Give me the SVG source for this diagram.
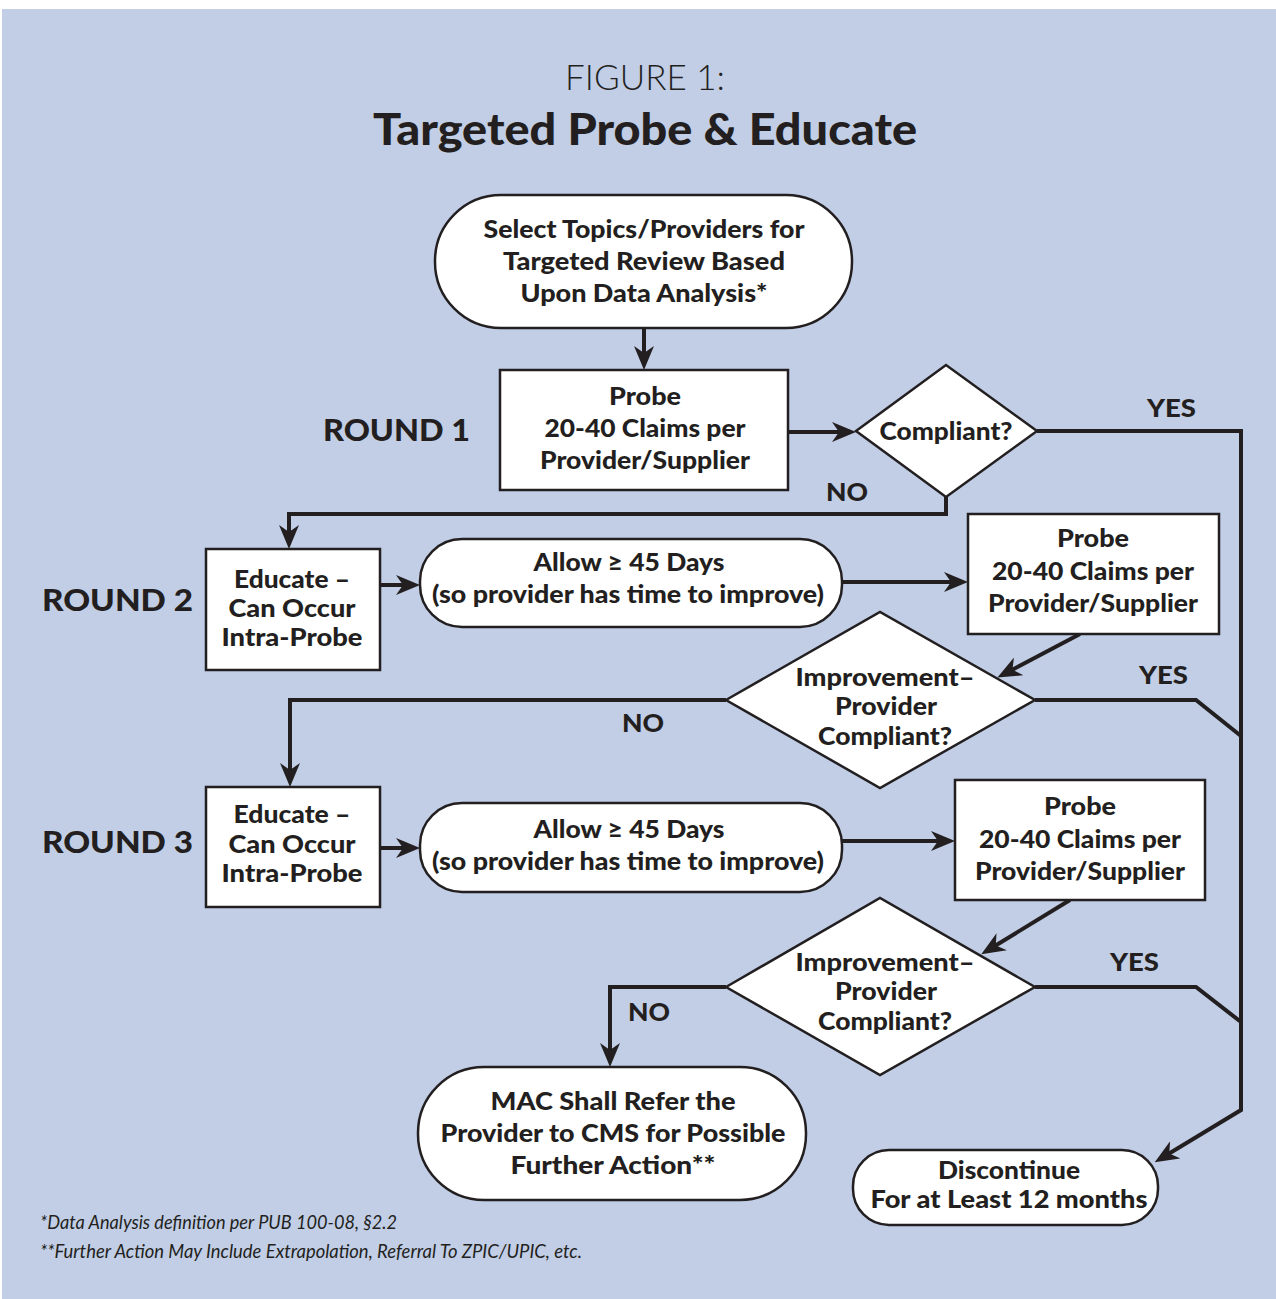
<svg xmlns="http://www.w3.org/2000/svg" width="1276" height="1299" viewBox="0 0 1276 1299">
<defs>
<marker id="arr" viewBox="0 0 24 20" refX="12" refY="10" markerWidth="24" markerHeight="20" markerUnits="userSpaceOnUse" orient="auto">
<path d="M0,0 L24,10 L0,20 L7,10 z" fill="#231f20"/>
</marker>
<style>
.bg{fill:#c1cee6}
.node{fill:#fff;stroke:#231f20;stroke-width:2.5}
.t{font-family:Lato,"Open Sans","DejaVu Sans",sans-serif;font-weight:900;fill:#231f20;text-anchor:middle;font-size:24px}
.lbl{font-family:Lato,"Open Sans","DejaVu Sans",sans-serif;font-weight:900;fill:#231f20;font-size:24px}
.round{font-family:Lato,"Open Sans","DejaVu Sans",sans-serif;font-weight:900;fill:#231f20;font-size:31px}
.conn{fill:none;stroke:#231f20;stroke-width:4}
.note{font-family:Lato,"Open Sans","DejaVu Sans",sans-serif;font-style:italic;fill:#231f20;font-size:19px}
</style>
</defs>
<rect class="bg" x="2" y="9" width="1274" height="1290"/>
<g id="title">
<text x="645" y="90" text-anchor="middle" style="font-family:Lato,'Open Sans',sans-serif;font-weight:300;font-size:35px;fill:#231f20">FIGURE 1:</text>
<text x="645" y="145" text-anchor="middle" textLength="544" lengthAdjust="spacingAndGlyphs" style="font-family:Lato,'Open Sans',sans-serif;font-weight:900;font-size:43px;fill:#231f20">Targeted Probe &amp; Educate</text>
</g>
<g id="connectors">
<path class="conn" d="M644,328 V358" marker-end="url(#arr)"/>
<path class="conn" d="M788,432 H844" marker-end="url(#arr)"/>
<path class="conn" d="M1037,431 H1241 V1110 L1165,1156" marker-end="url(#arr)"/>
<path class="conn" d="M946,497 V514 H289 V537" marker-end="url(#arr)"/>
<path class="conn" d="M380,585 H408" marker-end="url(#arr)"/>
<path class="conn" d="M842,582 H956" marker-end="url(#arr)"/>
<path class="conn" d="M1080,634 L1008,672" marker-end="url(#arr)"/>
<path class="conn" d="M1035,700 H1196 L1241,736"/>
<path class="conn" d="M726,700 H290 V775" marker-end="url(#arr)"/>
<path class="conn" d="M380,848 H408" marker-end="url(#arr)"/>
<path class="conn" d="M842,841 H943" marker-end="url(#arr)"/>
<path class="conn" d="M1070,900 L991.5,948" marker-end="url(#arr)"/>
<path class="conn" d="M1035,987 H1196 L1241,1022"/>
<path class="conn" d="M726,987 H610 V1055" marker-end="url(#arr)"/>
</g>
<g id="labels">
<text class="round" x="323" y="441" textLength="147" lengthAdjust="spacingAndGlyphs">ROUND 1</text>
<text class="round" x="42" y="611" textLength="151" lengthAdjust="spacingAndGlyphs">ROUND 2</text>
<text class="round" x="42" y="853" textLength="151" lengthAdjust="spacingAndGlyphs">ROUND 3</text>
<text class="lbl" x="1147" y="417" textLength="49" lengthAdjust="spacingAndGlyphs">YES</text>
<text class="lbl" x="826" y="501" textLength="42" lengthAdjust="spacingAndGlyphs">NO</text>
<text class="lbl" x="1139" y="684" textLength="49" lengthAdjust="spacingAndGlyphs">YES</text>
<text class="lbl" x="622" y="732" textLength="42" lengthAdjust="spacingAndGlyphs">NO</text>
<text class="lbl" x="1110" y="971" textLength="49" lengthAdjust="spacingAndGlyphs">YES</text>
<text class="lbl" x="628" y="1021" textLength="42" lengthAdjust="spacingAndGlyphs">NO</text>
</g>
<g id="start">
<rect class="node" x="435" y="195" width="417" height="133" rx="66" ry="66"/>
<text class="t" x="644" y="238" textLength="321" lengthAdjust="spacingAndGlyphs">Select Topics/Providers for</text>
<text class="t" x="644" y="270" textLength="282" lengthAdjust="spacingAndGlyphs">Targeted Review Based</text>
<text class="t" x="644" y="302" textLength="247" lengthAdjust="spacingAndGlyphs">Upon Data Analysis*</text>
</g>
<g id="probe1">
<rect class="node" x="500" y="370" width="288" height="120"/>
<text class="t" x="645" y="405" textLength="72" lengthAdjust="spacingAndGlyphs">Probe</text>
<text class="t" x="645" y="437" textLength="201" lengthAdjust="spacingAndGlyphs">20-40 Claims per</text>
<text class="t" x="645" y="469" textLength="210" lengthAdjust="spacingAndGlyphs">Provider/Supplier</text>
</g>
<g id="compliant1">
<polygon class="node" points="856,431 946,365 1037,431 946,497"/>
<text class="t" x="946" y="440" textLength="133" lengthAdjust="spacingAndGlyphs">Compliant?</text>
</g>
<g id="educate2">
<rect class="node" x="206" y="549" width="174" height="121"/>
<text class="t" x="292" y="588" textLength="116" lengthAdjust="spacingAndGlyphs">Educate –</text>
<text class="t" x="292" y="617" textLength="127" lengthAdjust="spacingAndGlyphs">Can Occur</text>
<text class="t" x="292" y="646" textLength="141" lengthAdjust="spacingAndGlyphs">Intra-Probe</text>
</g>
<g id="allow2">
<rect class="node" x="420" y="539" width="422" height="88" rx="42" ry="42"/>
<text class="t" x="629" y="571" textLength="191" lengthAdjust="spacingAndGlyphs">Allow ≥ 45 Days</text>
<text class="t" x="628" y="603" textLength="392" lengthAdjust="spacingAndGlyphs">(so provider has time to improve)</text>
</g>
<g id="probe2">
<rect class="node" x="968" y="514" width="251" height="120"/>
<text class="t" x="1093" y="547" textLength="72" lengthAdjust="spacingAndGlyphs">Probe</text>
<text class="t" x="1093" y="580" textLength="202" lengthAdjust="spacingAndGlyphs">20-40 Claims per</text>
<text class="t" x="1093" y="612" textLength="210" lengthAdjust="spacingAndGlyphs">Provider/Supplier</text>
</g>
<g id="compliant2">
<polygon class="node" points="726,700 880,612 1035,700 880,788"/>
<text class="t" x="885" y="686" textLength="179" lengthAdjust="spacingAndGlyphs">Improvement–</text>
<text class="t" x="886" y="715" textLength="102" lengthAdjust="spacingAndGlyphs">Provider</text>
<text class="t" x="885" y="745" textLength="134" lengthAdjust="spacingAndGlyphs">Compliant?</text>
</g>
<g id="educate3">
<rect class="node" x="206" y="787" width="174" height="120"/>
<text class="t" x="292" y="823" textLength="117" lengthAdjust="spacingAndGlyphs">Educate –</text>
<text class="t" x="292" y="853" textLength="127" lengthAdjust="spacingAndGlyphs">Can Occur</text>
<text class="t" x="292" y="882" textLength="141" lengthAdjust="spacingAndGlyphs">Intra-Probe</text>
</g>
<g id="allow3">
<rect class="node" x="420" y="803" width="422" height="89" rx="42" ry="42"/>
<text class="t" x="629" y="838" textLength="191" lengthAdjust="spacingAndGlyphs">Allow ≥ 45 Days</text>
<text class="t" x="628" y="870" textLength="392" lengthAdjust="spacingAndGlyphs">(so provider has time to improve)</text>
</g>
<g id="probe3">
<rect class="node" x="955" y="780" width="250" height="120"/>
<text class="t" x="1080" y="815" textLength="72" lengthAdjust="spacingAndGlyphs">Probe</text>
<text class="t" x="1080" y="848" textLength="202" lengthAdjust="spacingAndGlyphs">20-40 Claims per</text>
<text class="t" x="1080" y="880" textLength="210" lengthAdjust="spacingAndGlyphs">Provider/Supplier</text>
</g>
<g id="compliant3">
<polygon class="node" points="726,987 880,898 1035,987 880,1075"/>
<text class="t" x="885" y="971" textLength="179" lengthAdjust="spacingAndGlyphs">Improvement–</text>
<text class="t" x="886" y="1000" textLength="102" lengthAdjust="spacingAndGlyphs">Provider</text>
<text class="t" x="885" y="1030" textLength="134" lengthAdjust="spacingAndGlyphs">Compliant?</text>
</g>
<g id="refer">
<rect class="node" x="418" y="1067" width="388" height="133" rx="66" ry="66"/>
<text class="t" x="613" y="1110" textLength="245" lengthAdjust="spacingAndGlyphs">MAC Shall Refer the</text>
<text class="t" x="613" y="1142" textLength="345" lengthAdjust="spacingAndGlyphs">Provider to CMS for Possible</text>
<text class="t" x="613" y="1174" textLength="205" lengthAdjust="spacingAndGlyphs">Further Action**</text>
</g>
<g id="discontinue">
<rect class="node" x="853" y="1150" width="305" height="75" rx="36" ry="36"/>
<text class="t" x="1009" y="1179" textLength="142" lengthAdjust="spacingAndGlyphs">Discontinue</text>
<text class="t" x="1009" y="1208" textLength="277" lengthAdjust="spacingAndGlyphs">For at Least 12 months</text>
</g>
<g id="footnotes">
<text class="note" x="40" y="1229" textLength="357" lengthAdjust="spacingAndGlyphs">*Data Analysis definition per PUB 100-08, §2.2</text>
<text class="note" x="40" y="1258" textLength="542" lengthAdjust="spacingAndGlyphs">**Further Action May Include Extrapolation, Referral To ZPIC/UPIC, etc.</text>
</g>
</svg>
